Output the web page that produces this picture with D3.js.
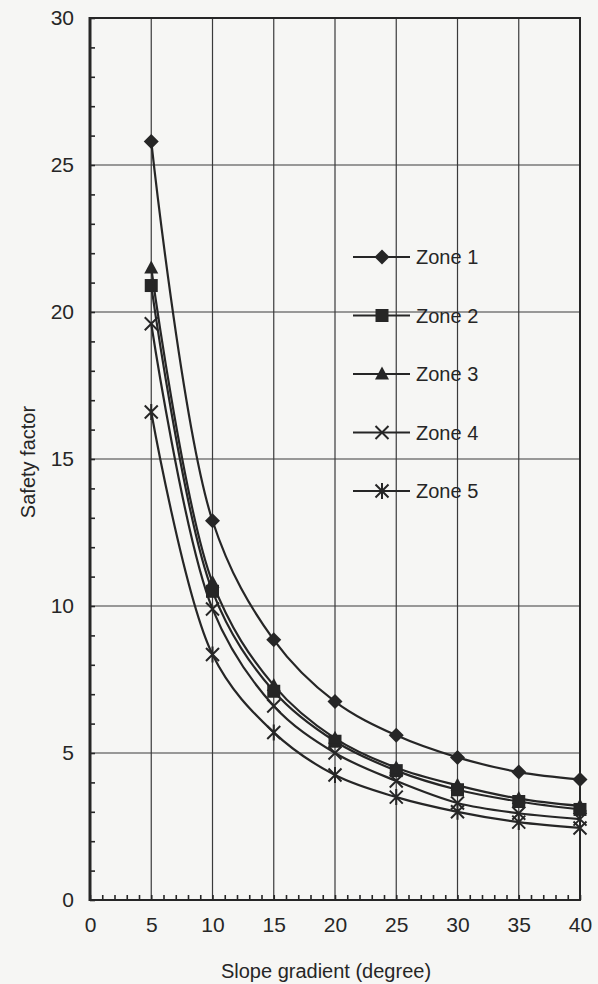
<!DOCTYPE html>
<html lang="en">
<head>
<meta charset="UTF-8">
<title>Safety factor vs slope gradient</title>
<script src="https://d3js.org/d3.v7.min.js"></script>
<style>
    body { margin: 0; background: #f6f6f4; font-family: "Liberation Sans", Arial, sans-serif; }
    svg text { fill: #262626; font-family: "Liberation Sans", Arial, sans-serif; }
</style>
</head>
<body>
<svg id="chart" width="598" height="984"></svg>
<script>
    // data
    const slopes = [5, 10, 15, 20, 25, 30, 35, 40];
    const zone1 = [25.8, 12.9, 8.85, 6.75, 5.6, 4.85, 4.35, 4.1];
    const zone2 = [20.9, 10.5, 7.1, 5.4, 4.4, 3.75, 3.35, 3.08];
    const zone3 = [21.5, 10.8, 7.3, 5.5, 4.5, 3.9, 3.45, 3.2];
    const zone4 = [19.6, 9.9, 6.6, 5.0, 4.05, 3.3, 2.95, 2.75];
    const zone5 = [16.6, 8.35, 5.7, 4.25, 3.5, 3.0, 2.65, 2.45];
    const zoneNames = ["Zone 1", "Zone 2", "Zone 3", "Zone 4", "Zone 5"];
    const xTicks = [0, 5, 10, 15, 20, 25, 30, 35, 40];
    const yTicks = [0, 5, 10, 15, 20, 25, 30];

    const series = [zone1, zone2, zone3, zone4, zone5];
    const markers = ["diamond", "square", "triangle", "cross", "star"];

    const svg = d3.select("#chart");
    const margin = { top: 18, right: 18, bottom: 84, left: 90 };
    const width = 598 - margin.left - margin.right;
    const height = 984 - margin.top - margin.bottom;
    const ink = "#262626";

    const x = d3.scaleLinear().domain([0, 40]).range([0, width]);
    const y = d3.scaleLinear().domain([0, 30]).range([height, 0]);

    const g = svg.append("g").attr("transform", `translate(${margin.left},${margin.top})`);

    // grid
    g.selectAll(".vgrid").data(xTicks.slice(1, -1)).enter().append("line")
        .attr("x1", d => x(d)).attr("x2", d => x(d))
        .attr("y1", 0).attr("y2", height)
        .attr("stroke", "#3a3a3a").attr("stroke-width", 1.2);
    g.selectAll(".hgrid").data(yTicks.slice(1, -1)).enter().append("line")
        .attr("x1", 0).attr("x2", width)
        .attr("y1", d => y(d)).attr("y2", d => y(d))
        .attr("stroke", "#3a3a3a").attr("stroke-width", 1.2);

    // minor ticks, pointing inward
    g.append("g").call(d3.axisLeft(y).ticks(30).tickSize(-5).tickFormat(""))
        .call(a => a.select(".domain").remove())
        .selectAll("line").attr("stroke", ink).attr("stroke-width", 1.6);
    g.append("g").attr("transform", `translate(0,${height})`)
        .call(d3.axisBottom(x).ticks(40).tickSize(-5).tickFormat(""))
        .call(a => a.select(".domain").remove())
        .selectAll("line").attr("stroke", ink).attr("stroke-width", 1.6);

    // tick labels
    g.append("g").attr("transform", `translate(0,${height})`)
        .call(d3.axisBottom(x).tickValues(xTicks).tickSize(0).tickPadding(17))
        .call(a => a.select(".domain").remove())
        .selectAll("text").style("font-size", "21px").style("font-family", "Liberation Sans, Arial");
    g.append("g")
        .call(d3.axisLeft(y).tickValues(yTicks).tickSize(0).tickPadding(16))
        .call(a => a.select(".domain").remove())
        .selectAll("text").style("font-size", "21px").style("font-family", "Liberation Sans, Arial");

    // frame
    g.append("rect").attr("width", width).attr("height", height)
        .attr("fill", "none").attr("stroke", ink).attr("stroke-width", 2);
    g.append("line").attr("x1", 0).attr("x2", 0).attr("y1", -1).attr("y2", height + 1)
        .attr("stroke", ink).attr("stroke-width", 3);

    // curves
    const line = d3.line()
        .x((d, i) => x(slopes[i]))
        .y(d => y(d))
        .curve(d3.curveCatmullRom.alpha(0.5));

    function drawMarker(sel, type) {
        if (type === "diamond") {
            sel.append("path").attr("d", "M0,-7.5L7.5,0L0,7.5L-7.5,0Z").attr("fill", ink);
        } else if (type === "square") {
            sel.append("rect").attr("x", -6.5).attr("y", -6.5).attr("width", 13).attr("height", 13).attr("fill", ink);
        } else if (type === "triangle") {
            sel.append("path").attr("d", "M0,-7.5L7,5.5L-7,5.5Z").attr("fill", ink);
        } else if (type === "cross") {
            sel.append("path").attr("d", "M-6.5,-6.5L6.5,6.5M-6.5,6.5L6.5,-6.5").attr("stroke", ink).attr("stroke-width", 2);
        } else {
            sel.append("path").attr("d", "M-6.5,-6.5L6.5,6.5M-6.5,6.5L6.5,-6.5M0,-8L0,8").attr("stroke", ink).attr("stroke-width", 2);
        }
    }

    series.forEach((vals, k) => {
        g.append("path").datum(vals)
            .attr("d", line)
            .attr("fill", "none").attr("stroke", ink).attr("stroke-width", 2.2);
        vals.forEach((v, i) => {
            const m = g.append("g").attr("transform", `translate(${x(slopes[i])},${y(v)})`);
            drawMarker(m, markers[k]);
        });
    });

    // legend
    const legend = svg.append("g").attr("transform", "translate(353,257)");
    zoneNames.forEach((name, k) => {
        const row = legend.append("g").attr("transform", `translate(0,${k * 58.5})`);
        row.append("line").attr("x1", 0).attr("x2", 57).attr("stroke", ink).attr("stroke-width", 2);
        drawMarker(row.append("g").attr("transform", "translate(29,0)"), markers[k]);
        row.append("text").attr("x", 63).attr("dy", "0.35em")
            .style("font-size", "20px").text(name);
    });

    // axis titles
    svg.append("text")
        .attr("x", 326).attr("y", 978)
        .attr("text-anchor", "middle").style("font-size", "20px")
        .text("Slope gradient (degree)");
    svg.append("text")
        .attr("transform", `translate(35,${margin.top + height / 2 + 3}) rotate(-90)`)
        .attr("text-anchor", "middle").style("font-size", "20px")
        .text("Safety factor");
</script>
</body>
</html>
